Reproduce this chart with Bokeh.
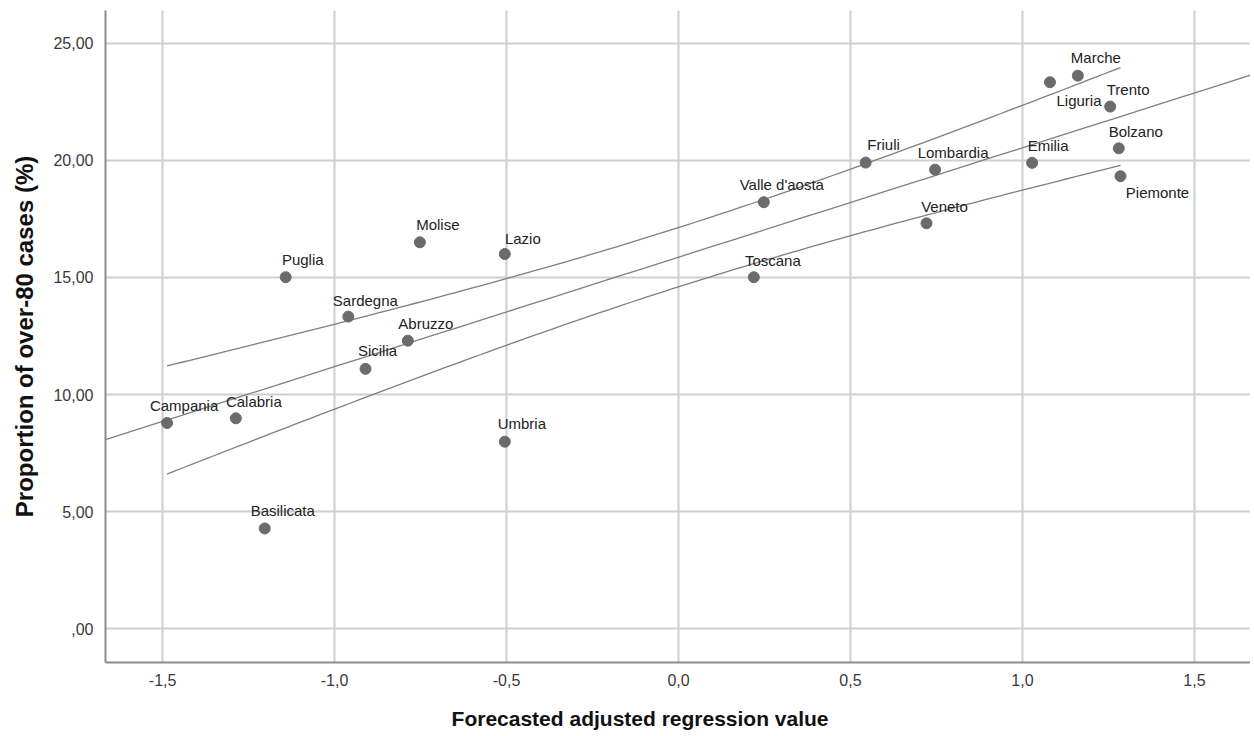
import numpy as np
from bokeh.plotting import figure
from bokeh.models import ColumnDataSource, FixedTicker, Range1d, LabelSet
from bokeh.core.properties import value
from bokeh.embed import file_html
from bokeh.resources import INLINE

# ---------------- data ----------------
regions = ["Campania", "Calabria", "Basilicata", "Puglia", "Sardegna", "Sicilia",
           "Abruzzo", "Molise", "Lazio", "Umbria", "Valle d'aosta", "Toscana",
           "Friuli", "Lombardia", "Veneto", "Emilia", "Marche", "Liguria",
           "Trento", "Bolzano", "Piemonte"]
forecast = [-1.487, -1.287, -1.203, -1.142, -0.960, -0.910,
            -0.787, -0.752, -0.505, -0.505, 0.248, 0.219,
            0.544, 0.746, 0.721, 1.028, 1.161, 1.080,
            1.255, 1.280, 1.285]
over80 = [8.79, 8.99, 4.29, 15.01, 13.33, 11.10,
          12.30, 16.50, 16.00, 7.99, 18.21, 15.01,
          19.90, 19.60, 17.31, 19.89, 23.61, 23.33,
          22.29, 20.51, 19.32]

x_ticks = [-1.5, -1.0, -0.5, 0.0, 0.5, 1.0, 1.5]
x_tick_labels = ["-1,5", "-1,0", "-0,5", "0,0", "0,5", "1,0", "1,5"]
y_ticks = [0, 5, 10, 15, 20, 25]
y_tick_labels = [",00", "5,00", "10,00", "15,00", "20,00", "25,00"]

x_title = "Forecasted adjusted regression value"
y_title = "Proportion of over-80 cases (%)"

# label placement (pixels, relative to each point)
label_dx = [17, 18, 18, 17, 17, 12, 18, 18, 18, 17, 18, 19,
            18, 18, 18, 16, 18, 29, 18, 17, 37]
label_dy = [17, 17, 18, 18, 16, 18, 17, 18, 16, 18, 18, 17,
            18, 17, 17, 17, 18, -18, 17, 17, -16]

# ---------------- fit (OLS with 95% CI of the mean) ----------------
xa = np.array(forecast)
ya = np.array(over80)
n = len(xa)
b, a = np.polyfit(xa, ya, 1)
resid = ya - (a + b * xa)
s = np.sqrt(np.sum(resid ** 2) / (n - 2))
sxx = np.sum((xa - xa.mean()) ** 2)
t_crit = 2.093  # t(0.975, 19)

x_lo, x_hi = -1.666, 1.663
y_lo, y_hi = -1.43, 26.39
xf = np.linspace(x_lo, x_hi, 50)
yf = a + b * xf
xc = np.linspace(xa.min(), xa.max(), 120)
hw = t_crit * s * np.sqrt(1.0 / n + (xc - xa.mean()) ** 2 / sxx)
yc = a + b * xc

# ---------------- figure ----------------
p = figure(width=1250, height=734, output_backend="svg", toolbar_location=None,
           x_range=Range1d(x_lo, x_hi), y_range=Range1d(y_lo, y_hi),
           min_border_left=105, min_border_right=0, min_border_top=10,
           min_border_bottom=72)
p.outline_line_color = None
p.background_fill_color = "white"
p.border_fill_color = "white"

p.xaxis.ticker = FixedTicker(ticks=x_ticks)
p.yaxis.ticker = FixedTicker(ticks=y_ticks)
p.xaxis.major_label_overrides = {float(t): s_ for t, s_ in zip(x_ticks, x_tick_labels)}
p.yaxis.major_label_overrides = {float(t): s_ for t, s_ in zip(y_ticks, y_tick_labels)}

for ax in (p.xaxis[0], p.yaxis[0]):
    ax.major_tick_line_color = None
    ax.minor_tick_line_color = None
    ax.axis_line_color = "#8c8c8c"
    ax.axis_line_width = 2
    ax.major_label_text_font = "Liberation Sans"
    ax.major_label_text_font_size = "16px"
    ax.major_label_text_color = "#3a3a3a"
    ax.axis_label_text_font = "Liberation Sans"
    ax.axis_label_text_font_style = "bold"
    ax.axis_label_text_color = "#111111"
p.xaxis.major_label_standoff = 5
p.yaxis.major_label_standoff = 6

p.yaxis.axis_label = y_title
p.yaxis.axis_label_text_font_size = "24px"
p.yaxis.axis_label_standoff = 12

# trailing no-break spaces shift the centred title left, as in the original
p.xaxis.axis_label = x_title + "\u00a0" * 13
p.xaxis.axis_label_text_font_size = "21px"
p.xaxis.axis_label_standoff = 18

p.grid.grid_line_color = "#cfcfcf"
p.grid.grid_line_width = 2

line_col = "#7f7f7f"
p.line(xf, yf, line_color=line_col, line_width=1.3)
p.line(xc, yc + hw, line_color=line_col, line_width=1.3)
p.line(xc, yc - hw, line_color=line_col, line_width=1.3)

src = ColumnDataSource(dict(x=forecast, y=over80, name=regions, dx=label_dx, dy=label_dy))
p.scatter("x", "y", source=src, size=11, fill_color="#6b6b6b", line_color="#6b6b6b")
labels = LabelSet(x="x", y="y", text="name", source=src, x_offset="dx", y_offset="dy",
                  text_align="center", text_baseline="middle",
                  text_font=value("Liberation Sans"), text_font_size=value("15px"),
                  text_color="#222222")
p.add_layout(labels)

open("out.html", "w").write(file_html(p, INLINE))
